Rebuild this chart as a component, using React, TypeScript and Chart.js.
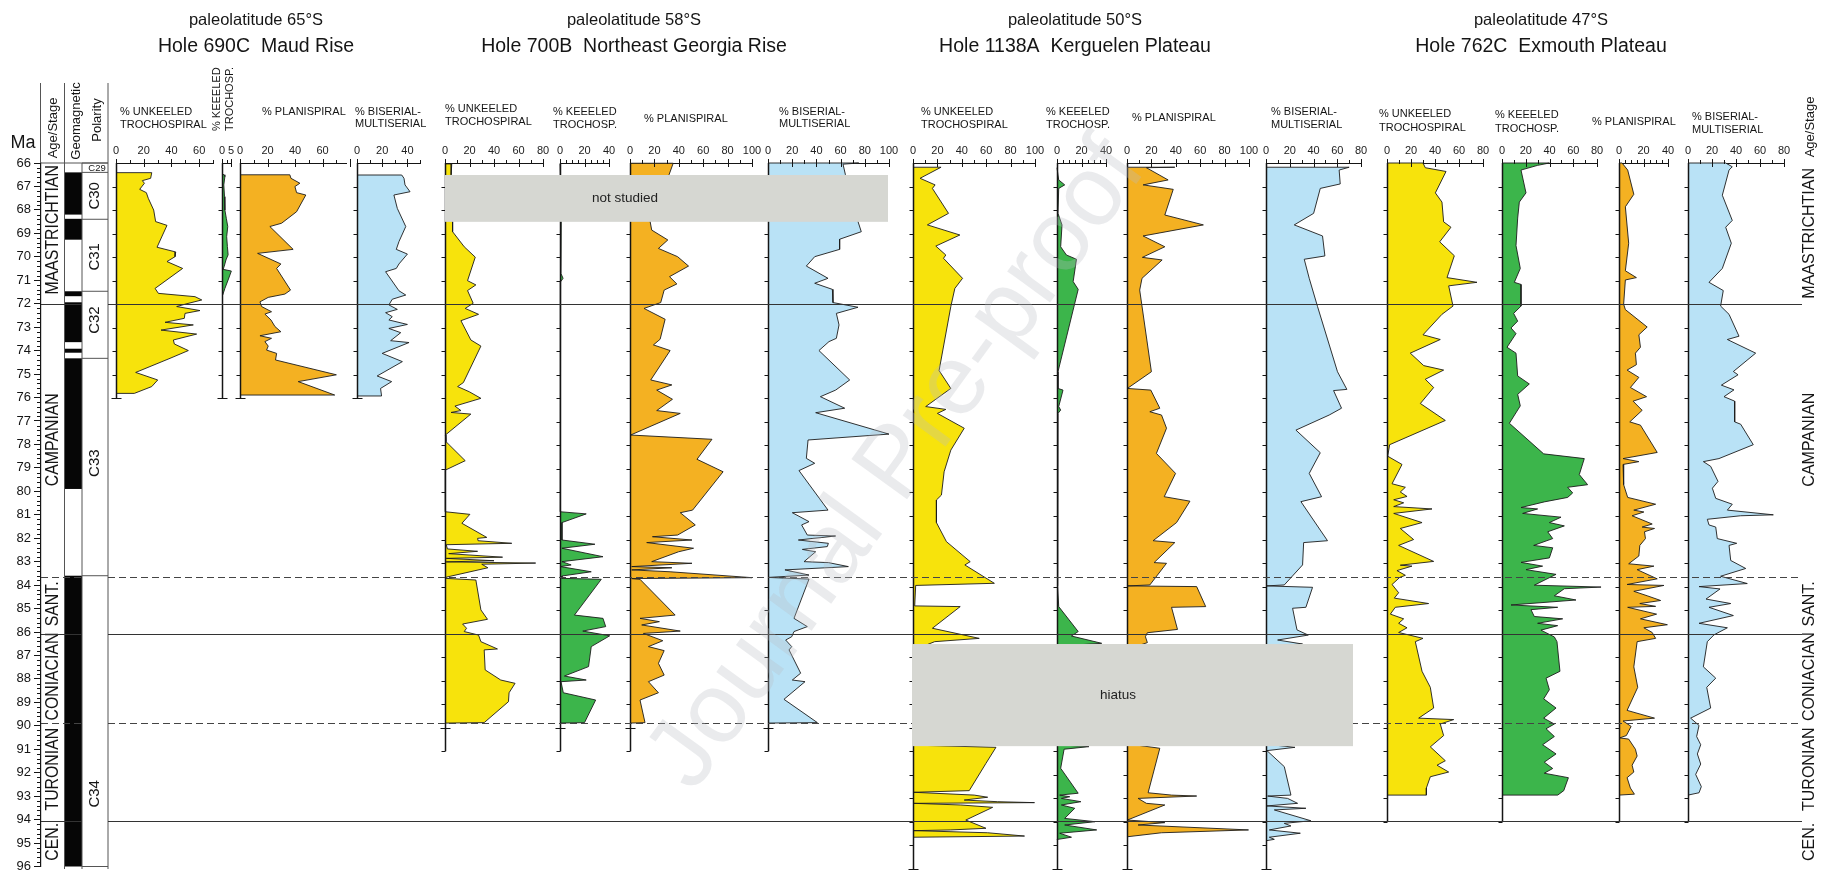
import React, { useEffect, useRef } from 'react';
import { Chart, registerables } from 'chart.js';

Chart.register(...registerables);

const FONT = '"Liberation Sans", Arial, Helvetica, sans-serif';
const NARROW = '"Liberation Sans Narrow", "Liberation Sans", Arial, sans-serif';
const W = 1829;
const H = 876;
const Y_TOP = 163;
const Y_BOT = 869;
const AXH = 30;
const PADL = 14;
const PADR = 30;
const PADB = 8;

const YELLOW = '#f7e30c';
const GREEN = '#3cb54b';
const ORANGE = '#f4b122';
const BLUE = '#b9e2f6';
const GREY_BOX = '#d6d7d2';
const INK = '#151515';

// ---------------- data (age Ma, percent) ----------------
const stageBounds = [66, 72, 83.6, 86, 89.8, 93.9, 96];
const stageNames = ['MAASTRICHTIAN', 'CAMPANIAN', 'SANT.', 'CONIACIAN', 'TURONIAN', 'CEN.'];
const normalPolarity = [[66.4, 68.2], [68.38, 69.27], [71.47, 71.68], [71.94, 73.64], [73.92, 74.09], [74.33, 79.9], [83.6, 96]];
const chronBounds = [66, 66.4, 68.4, 71.47, 74.33, 83.6, 96];
const chronNames = ['C29', 'C30', 'C31', 'C32', 'C33', 'C34'];
const chronLabelAges = [66.2, 67.4, 70.0, 72.7, 78.8, 92.9];
const solidLines = [72, 86, 93.95];
const dashedLines = [83.6, 89.8];
const notStudiedAges = [66.51, 68.5];
const hiatusAges = [86.44, 90.78];

const holeLatitudes = ['paleolatitude 65°S', 'paleolatitude 58°S', 'paleolatitude 50°S', 'paleolatitude 47°S'];
const holeNames = ['Hole 690C  Maud Rise', 'Hole 700B  Northeast Georgia Rise', 'Hole 1138A  Kerguelen Plateau', 'Hole 762C  Exmouth Plateau'];

const hole690Unkeeled = [[66.41,0],[66.41,25.8],[66.65,25.0],[66.75,19.0],[66.86,20.5],[67.12,17.1],[67.26,21.9],[67.5,23.3],[68.0,27.2],[68.49,28.6],[68.65,36.8],[69.58,29.6],[69.78,43.1],[69.98,42.6],[70.19,36.8],[70.48,48.1],[71.33,28.2],[71.54,30.6],[71.68,57.0],[71.82,61.9],[71.99,50.5],[72.1,43.8],[72.27,60.6],[72.39,49.8],[72.6,49.3],[72.77,35.4],[72.88,55.8],[73.1,32.5],[73.27,58.2],[73.52,41.4],[73.69,42.1],[73.97,52.2],[74.3,39.0],[74.9,14.2],[75.22,30.1],[75.5,25.8],[75.79,13.2],[75.79,0]];
const hole690Keeled = [[66.47,0],[66.5,1.2],[66.58,1.6],[66.93,1.0],[67.43,1.4],[68.0,1.6],[68.35,2.4],[68.7,3.2],[69.13,2.6],[69.55,3.0],[69.9,3.4],[70.12,2.2],[70.4,1.2],[70.52,0.6],[70.59,5.2],[70.97,3.4],[71.33,1.6],[71.61,0.4],[71.61,0]];
const hole690Planispiral = [[66.5,0],[66.5,36.2],[66.65,37.0],[66.86,43.5],[67.0,39.9],[67.26,41.1],[67.36,47.8],[68.07,41.1],[68.56,30.2],[68.7,21.7],[69.67,38.6],[69.84,12.8],[70.29,29.7],[70.48,26.6],[71.4,36.7],[71.57,32.6],[71.71,20.5],[71.9,14.5],[72.1,15.7],[72.32,22.9],[72.42,18.1],[72.67,22.5],[72.95,25.4],[73.17,29.7],[73.34,14.5],[73.45,22.9],[73.59,18.1],[73.78,20.5],[73.95,19.3],[74.09,26.6],[74.37,25.8],[75.0,70.0],[75.29,42.3],[75.86,68.8],[75.86,0]];
const hole690Biserial = [[66.51,0],[66.51,35.5],[66.65,37.3],[66.93,38.1],[67.22,42.1],[67.36,29.3],[67.93,32.0],[68.7,38.7],[69.34,33.3],[69.67,31.2],[69.87,40.0],[70.29,33.3],[70.48,31.2],[70.62,22.7],[71.43,33.3],[71.61,38.7],[71.79,28.0],[72.03,25.3],[72.22,32.0],[72.36,22.7],[72.53,28.0],[72.67,25.3],[72.86,40.0],[73.03,25.3],[73.21,34.7],[73.55,26.7],[73.63,41.3],[74.09,20.0],[74.44,36.0],[75.05,16.0],[75.29,27.5],[75.58,18.7],[75.9,19.5],[75.9,0]];

const hole700Unkeeled = [[66.04,0],[66.04,5.5],[66.5,5.0],[68.49,6.2],[68.92,6.2],[69.56,15.7],[70.0,24.7],[71.0,18.4],[71.18,25.2],[71.42,18.4],[71.96,23.0],[72.18,16.5],[72.43,27.4],[72.7,13.0],[73.52,21.1],[73.78,29.3],[75.33,15.0],[75.5,10.3],[75.72,19.8],[76.0,29.3],[76.33,8.1],[76.52,13.0],[76.6,4.9],[76.67,21.1],[77.56,0.3],[77.84,0.8],[78.65,16.5],[79.05,0.3],[80.82,0.3],[80.93,20.3],[81.31,13.8],[81.91,34.1],[81.95,26.6],[82.05,27],[82.16,54.5],[82.22,1],[82.4,2],[82.5,26.6],[82.6,3],[82.75,47],[82.8,1],[82.9,40],[82.95,1],[83.0,74],[83.05,30],[83.2,35],[83.6,1],[83.65,0.5],[83.72,25.2],[84.99,29.3],[85.39,34.7],[85.59,14.4],[85.77,17.6],[85.91,15.7],[86.06,27.4],[86.34,29.3],[86.65,42.8],[86.69,32.0],[87.54,32.8],[87.97,45.5],[88.11,57.2],[88.51,52.3],[88.89,51.8],[89.78,32.0],[89.8,0]];
const hole700Keeled = [[66.04,0],[66.04,0.5],[68.5,1.0],[70.7,0.8],[70.9,2.5],[71.05,0.5],[80.82,0.3],[80.91,21.4],[81.28,1.6],[82.02,1.6],[82.2,28.5],[82.37,1.6],[82.73,35.1],[82.94,1.6],[83.08,9.1],[83.15,0.3],[83.37,25.5],[83.55,1.6],[83.65,1.6],[83.69,33.7],[85.21,11.8],[85.35,35.1],[85.7,37.3],[85.89,18.6],[86.09,40.6],[86.55,25.5],[87.4,23.3],[87.8,3.6],[87.97,21.4],[88.04,0.8],[88.51,2.7],[88.82,29.1],[89.78,20.0],[89.8,0]];
const hole700Planispiral = [[66.01,0],[66.01,35.4],[66.5,32],[68.49,16.5],[68.85,17.8],[69.27,31.0],[69.63,23.3],[69.98,39.0],[70.38,48.0],[70.83,32.4],[71.14,38.4],[71.4,28.0],[71.93,25.2],[72.18,11.5],[72.64,28.8],[73.49,24.7],[73.73,19.2],[73.97,32.9],[75.22,17.0],[75.43,34.3],[75.65,21.9],[76.04,34.8],[76.52,21.9],[76.64,41.2],[77.56,0.5],[77.74,67.2],[78.59,54.9],[79.12,76.3],[80.75,51.3],[80.86,41.2],[81.38,53.5],[81.81,39.0],[81.88,18.4],[82.02,50.8],[82.13,13.7],[82.37,52.1],[82.52,39.8],[82.94,17.8],[83.01,50.8],[83.15,1.4],[83.2,34.3],[83.29,1.4],[83.37,32.9],[83.62,100],[83.66,1.4],[83.69,8.2],[85.21,37.0],[85.35,8.2],[85.49,24.1],[85.63,9.6],[85.89,41.2],[85.99,11.0],[86.3,26.9],[86.55,15.1],[86.72,28.0],[87.26,23.3],[87.76,28.0],[88.04,15.1],[88.51,23.3],[88.82,8.2],[89.78,12.3],[89.8,0]];
const hole700Biserial = [[66.0,0],[66.0,75],[66.05,62],[66.5,64],[68.49,74.4],[68.92,77.1],[69.24,59.2],[69.67,59.2],[69.98,38.6],[70.38,31.7],[70.9,49.6],[71.11,38.6],[71.37,53.2],[71.93,53.7],[72.13,74.4],[72.39,56.5],[72.88,58.7],[73.45,56.5],[73.59,50.4],[73.97,42.1],[75.22,67.5],[75.65,55.9],[75.93,43.3],[76.42,63.4],[76.61,39.4],[77.52,100],[77.77,33.1],[78.55,31.7],[78.76,38.6],[79.07,25.6],[80.75,49.6],[80.86,20.1],[81.24,33.9],[81.38,27.8],[81.81,32.5],[81.85,55.9],[82.02,25.1],[82.16,49.9],[82.3,49.0],[82.42,28.4],[82.52,39.4],[82.94,29.8],[82.98,49.9],[83.15,66.4],[83.29,14.0],[83.51,33.9],[83.61,0.3],[83.68,33.9],[85.35,21.5],[85.7,32.5],[85.91,21.5],[86.13,19.6],[86.27,14.6],[86.55,19.6],[86.69,17.4],[87.68,27.0],[87.97,20.1],[88.04,30.6],[88.79,13.2],[89.78,40.8],[89.8,0]];

const hole1138Unkeeled = [[66.18,0],[66.18,23],[66.65,5.8],[66.93,18.1],[67.08,15.9],[68.14,29.1],[68.63,11.8],[69.06,38.4],[69.53,18.7],[69.91,26.9],[70.05,25.0],[70.9,40.6],[71.33,34.3],[72.1,31.0],[74.82,21.4],[75.58,31.0],[76.35,10.4],[76.47,26.9],[76.64,20.0],[77.27,42.0],[78.2,31.0],[79.12,25.5],[80.11,23.3],[80.32,19.2],[81.28,19.2],[82.09,27.4],[82.94,46.9],[83.08,42.5],[83.86,66.7],[83.95,2.2],[84.82,1.4],[84.85,38.7],[85.77,15.9],[86.2,54.3],[86.34,17.8],[86.5,10],[90.75,10],[90.83,68.0],[91.51,59.8],[92.67,46.1],[92.74,0.8],[92.86,50.2],[92.95,61.2],[93.07,42.0],[93.14,69.4],[93.18,99.6],[93.21,0.8],[93.28,39.2],[93.38,65.3],[93.92,43.3],[94.27,59.8],[94.34,31.0],[94.37,0.8],[94.46,61.2],[94.6,91.4],[94.65,0.8],[94.65,0]];
const hole1138Keeled = [[66.2,0],[66.72,1.4],[66.93,6.3],[67.08,1.4],[68.14,0.8],[68.63,4.1],[69.56,3.0],[69.91,7.7],[70.09,15.9],[71.04,13.2],[71.37,17.3],[74.87,0.8],[75.58,0.8],[75.65,4.9],[76.35,1.4],[76.5,3.0],[76.64,0.8],[83.97,0.5],[84.85,1.4],[85.91,17.3],[86.1,11.8],[86.41,36.5],[86.5,10],[90.75,10],[90.8,26.1],[90.91,5.8],[91.72,3.0],[92.78,17.3],[92.86,2.2],[92.93,10.4],[93.0,3.6],[93.14,19.5],[93.28,3.6],[93.42,14.5],[93.85,6.3],[93.99,31.0],[94.13,6.3],[94.34,32.4],[94.48,2.2],[94.65,11.8],[94.74,0.8],[94.75,0]];
const hole1138Planispiral = [[66.18,0],[66.18,39.2],[66.2,15.9],[66.72,33.7],[66.93,13.2],[67.12,37.9],[68.21,31.0],[68.63,62.6],[69.1,13.2],[69.56,31.0],[70.01,12.6],[70.12,28.8],[70.9,12.3],[71.4,10.4],[74.87,20.0],[75.58,0.3],[75.65,19.5],[76.42,26.9],[76.57,18.7],[76.71,28.3],[77.27,32.4],[78.34,24.1],[79.19,39.8],[80.18,30.5],[80.37,51.6],[81.28,40.6],[82.05,21.4],[82.13,39.2],[82.98,22.2],[83.01,32.4],[83.93,18.7],[83.97,0.8],[84.0,57.1],[84.85,64.5],[84.88,36.5],[85.82,41.4],[85.96,16.7],[86.13,15.1],[86.38,16.7],[86.5,10],[90.75,10],[90.87,26.9],[92.76,17.3],[92.86,36.5],[92.9,57.1],[93.0,9.1],[93.21,15.9],[93.28,31.0],[93.92,0.3],[94.03,31.0],[94.13,9.1],[94.34,99.6],[94.46,28.3],[94.63,0.3],[94.63,0]];
const hole1138Biserial = [[66.18,0],[66.18,70.0],[66.3,61.6],[66.89,62.5],[67.08,45.7],[68.14,40.1],[68.63,23.8],[69.1,47.6],[69.95,49.6],[70.09,32.2],[70.9,36.4],[72.1,43.4],[74.87,60.2],[75.62,68.1],[75.67,56.9],[76.42,63.6],[76.71,53.2],[77.35,25.2],[78.31,45.7],[79.19,36.4],[80.18,46.8],[80.39,29.4],[82.05,51.8],[82.13,31.7],[83.08,30.8],[83.93,15.4],[83.97,0.3],[84.03,39.2],[84.88,33.6],[84.92,22.4],[85.84,26.1],[86.06,35.6],[86.27,9.8],[86.44,30.8],[86.5,10],[90.75,10],[90.83,24.4],[90.97,0.8],[91.65,15.4],[92.86,21.0],[92.9,1.4],[93.0,18.2],[93.21,26.6],[93.32,0.8],[93.42,33.6],[93.49,7.0],[93.95,37.8],[94.06,15.4],[94.17,21.0],[94.34,2.8],[94.48,28.9],[94.65,2.8],[94.74,7.0],[94.8,0]];

const hole762Unkeeled = [[66.0,0],[66.0,30.0],[66.2,31.9],[66.36,49.2],[67.27,40.3],[67.66,45.8],[68.5,47.2],[68.73,53.3],[69.35,43.9],[69.94,56.1],[70.87,50.0],[71.07,75.0],[71.22,51.4],[72.08,55.0],[72.43,45.8],[73.3,30.0],[73.5,44.4],[74.08,19.4],[74.61,30.6],[74.8,47.2],[75.19,31.9],[75.54,38.9],[76.22,27.8],[76.94,48.6],[77.97,2.2],[78.46,0.6],[78.81,12.5],[79.63,4.2],[79.78,15.3],[79.98,11.1],[80.17,16.7],[80.31,5.6],[80.44,13.9],[80.6,5.6],[80.7,37.5],[80.89,5.6],[81.28,29.2],[81.53,11.1],[82.0,22.2],[82.25,9.7],[82.93,38.9],[83.09,11.1],[83.13,20.8],[83.32,8.3],[83.52,15.3],[83.61,10.6],[83.91,4.2],[84.26,9.7],[84.49,6.1],[84.72,34.7],[84.88,6.9],[85.17,2.8],[85.37,13.9],[85.56,9.7],[85.75,16.7],[85.95,9.7],[86.2,30.0],[86.34,23.6],[87.6,29.2],[88.28,36.1],[89.16,38.9],[89.59,26.4],[89.65,55.6],[89.84,44.4],[90.33,47.2],[90.81,36.1],[91.4,48.6],[91.59,41.7],[91.88,51.4],[92.08,36.1],[92.56,32.8],[92.86,32.8],[92.86,0]];
const hole762Keeled = [[66.0,0],[66.0,39.9],[66.1,30],[66.3,16],[67.27,20.2],[67.66,14.6],[68.34,13.2],[69.51,11.8],[70.48,15.4],[71.07,10.4],[71.16,16.0],[72.08,16.0],[72.39,9.8],[72.72,13.2],[73.01,7.6],[73.25,11.8],[73.83,4.2],[74.08,11.8],[75.05,13.2],[75.39,23.0],[75.83,13.2],[76.32,15.4],[77.06,6.2],[78.36,35.1],[78.56,69.3],[79.24,65.1],[79.67,72.1],[79.78,55.3],[80.02,59.5],[80.21,55.3],[80.4,35.6],[80.64,16.0],[80.7,30.0],[80.89,17.4],[81.05,49.7],[81.28,39.9],[81.42,52.5],[81.67,38.5],[81.96,42.7],[82.25,26.7],[82.35,42.7],[82.78,39.9],[82.97,16.0],[83.13,34.2],[83.28,20.2],[83.48,45.5],[83.94,27.2],[84.02,83.4],[84.09,52.5],[84.39,44.1],[84.57,62.3],[84.78,7.6],[84.88,46.9],[84.98,24.4],[85.27,27.2],[85.37,51.1],[85.56,30.0],[85.66,46.9],[85.85,32.8],[86.14,44.1],[86.34,46.3],[87.6,48.8],[87.89,37.1],[88.38,39.9],[88.77,35.1],[89.16,45.5],[89.59,35.1],[89.84,44.1],[90.04,37.1],[90.37,44.1],[90.72,34.2],[91.11,45.5],[91.46,35.6],[91.73,42.7],[91.93,35.6],[92.12,55.9],[92.67,52.0],[92.86,46.9],[92.86,0]];
const hole762Planispiral = [[66.0,0],[66.0,2.5],[66.3,7.1],[67.33,12.1],[67.86,5.2],[69.41,7.9],[70.58,5.2],[70.87,14.2],[70.97,5.2],[72.0,3.8],[72.23,5.2],[72.97,23.0],[73.3,16.2],[73.83,17.5],[74.08,13.4],[74.57,14.2],[74.8,6.6],[75.11,16.2],[75.54,9.3],[75.93,22.5],[76.12,11.5],[76.51,18.9],[77.0,8.8],[77.14,17.5],[78.3,31.2],[78.56,3.3],[78.69,16.2],[78.81,3.3],[79.67,3.8],[80.21,7.1],[80.5,29.9],[80.75,12.1],[80.83,20.3],[80.99,10.7],[81.34,27.1],[81.47,18.9],[81.53,29.0],[81.67,20.8],[81.96,21.6],[82.25,17.0],[82.7,16.2],[83.03,7.9],[83.13,28.5],[83.28,14.8],[83.67,31.2],[83.91,6.6],[83.95,36.7],[84.2,12.1],[84.39,23.0],[84.59,34.0],[84.72,17.0],[84.84,29.9],[84.88,7.1],[85.17,30.7],[85.37,17.5],[85.62,39.5],[85.75,20.3],[85.95,27.1],[86.2,29.9],[86.34,14.8],[87.41,12.1],[88.28,15.3],[89.26,6.6],[89.59,29.0],[89.71,3.3],[89.94,9.9],[90.33,6.0],[90.43,0.5],[90.48,7.9],[90.91,13.4],[91.2,14.8],[91.59,10.7],[91.88,12.1],[92.12,6.6],[92.56,9.3],[92.82,12.6],[92.86,0]];
const hole762Biserial = [[66.0,0],[66.0,31.4],[66.16,36.9],[66.3,34.2],[67.37,28.6],[68.44,36.9],[68.73,31.4],[69.41,36.1],[70.48,28.6],[71.07,17.5],[71.42,29.4],[72.08,27.2],[72.43,34.2],[73.36,42.5],[73.5,32.8],[74.08,56.4],[74.86,37.8],[75.0,41.7],[75.44,27.8],[75.64,38.3],[75.93,30.0],[76.12,38.9],[77.0,38.9],[77.1,43.9],[77.97,54.4],[78.56,25.8],[78.69,12.8],[78.89,18.9],[79.53,25.0],[79.82,20.3],[80.25,23.1],[80.5,36.9],[80.75,32.8],[80.95,71.1],[80.99,43.9],[81.14,16.1],[81.38,17.5],[81.47,23.1],[81.96,24.4],[82.16,40.6],[82.25,34.2],[82.89,35.6],[83.23,48.1],[83.56,27.2],[83.87,49.4],[84.0,9.2],[84.1,26.7],[84.53,15.0],[84.72,35.6],[84.88,17.5],[85.23,37.8],[85.56,9.2],[85.75,32.8],[86.05,21.7],[86.34,16.1],[87.41,12.8],[87.89,23.1],[88.28,15.6],[89.16,18.9],[89.59,2.2],[89.9,9.2],[90.37,7.2],[90.72,10.6],[91.11,7.8],[91.54,10.6],[91.98,6.4],[92.5,11.1],[92.76,9.2],[92.86,0]];

// ---------------- layout (not data) ----------------
const holeBase = [
  { end: 76, cross: [76] },
  { end: 91, cross: [90] },
  { end: 96, cross: [96] },
  { end: 94, cross: [] as number[] },
];

const PANELS = [
  { hole: 0, data: hole690Unkeeled, color: YELLOW, left: 116, max: 70, ppu: 1.385, major: 20, minor: 10 },
  { hole: 0, data: hole690Keeled, color: GREEN, left: 221.5, max: 5, ppu: 1.7, major: 5, minor: 2.5 },
  { hole: 0, data: hole690Planispiral, color: ORANGE, left: 240, max: 77, ppu: 1.38, major: 20, minor: 10 },
  { hole: 0, data: hole690Biserial, color: BLUE, left: 356.7, max: 50, ppu: 1.25, major: 20, minor: 10 },
  { hole: 1, data: hole700Unkeeled, color: YELLOW, left: 445, max: 80, ppu: 1.23, major: 20, minor: 10 },
  { hole: 1, data: hole700Keeled, color: GREEN, left: 560, max: 40, ppu: 1.215, major: 20, minor: 5 },
  { hole: 1, data: hole700Planispiral, color: ORANGE, left: 630, max: 100, ppu: 1.215, major: 20, minor: 10 },
  { hole: 1, data: hole700Biserial, color: BLUE, left: 768.3, max: 100, ppu: 1.21, major: 20, minor: 10 },
  { hole: 2, data: hole1138Unkeeled, color: YELLOW, left: 913.3, max: 100, ppu: 1.215, major: 20, minor: 10 },
  { hole: 2, data: hole1138Keeled, color: GREEN, left: 1056.7, max: 40, ppu: 1.215, major: 20, minor: 5 },
  { hole: 2, data: hole1138Planispiral, color: ORANGE, left: 1127.3, max: 100, ppu: 1.215, major: 20, minor: 10 },
  { hole: 2, data: hole1138Biserial, color: BLUE, left: 1266, max: 80, ppu: 1.19, major: 20, minor: 10 },
  { hole: 3, data: hole762Unkeeled, color: YELLOW, left: 1386.7, max: 80, ppu: 1.2, major: 20, minor: 10 },
  { hole: 3, data: hole762Keeled, color: GREEN, left: 1501.7, max: 80, ppu: 1.1875, major: 20, minor: 10 },
  { hole: 3, data: hole762Planispiral, color: ORANGE, left: 1619.3, max: 40, ppu: 1.215, major: 20, minor: 5 },
  { hole: 3, data: hole762Biserial, color: BLUE, left: 1687.7, max: 80, ppu: 1.2, major: 20, minor: 10 },
];

const UNK = ['% UNKEELED', 'TROCHOSPIRAL'];
const KEE = ['% KEEELED', 'TROCHOSP.'];
const PLA = ['% PLANISPIRAL'];
const BIS = ['% BISERIAL-', 'MULTISERIAL'];
const HEADERS = [
  { x: 120, ys: [112, 125], lines: UNK },
  { x: 262, ys: [112], lines: PLA },
  { x: 355, ys: [112, 124], lines: BIS },
  { x: 445, ys: [109, 122], lines: UNK },
  { x: 553, ys: [112, 125], lines: KEE },
  { x: 644, ys: [119], lines: PLA },
  { x: 779, ys: [112, 124], lines: BIS },
  { x: 921, ys: [112, 125], lines: UNK },
  { x: 1046, ys: [112, 125], lines: KEE },
  { x: 1132, ys: [118], lines: PLA },
  { x: 1271, ys: [112, 125], lines: BIS },
  { x: 1379, ys: [114, 128], lines: UNK },
  { x: 1495, ys: [115, 129], lines: KEE },
  { x: 1592, ys: [122], lines: PLA },
  { x: 1692, ys: [117, 130], lines: BIS },
];
const TITLE_X = [256, 634, 1075, 1541];

function geom(p: any) {
  const w = Math.round(p.max * p.ppu);
  return { w, left: Math.round(p.left) - PADL, top: Y_TOP - AXH, cw: PADL + w + PADR, ch: AXH + (Y_BOT - Y_TOP) + PADB };
}

function seg(ctx: CanvasRenderingContext2D, x1: number, y1: number, x2: number, y2: number) {
  ctx.beginPath();
  ctx.moveTo(x1, y1);
  ctx.lineTo(x2, y2);
  ctx.stroke();
}

function txt(ctx: CanvasRenderingContext2D, s: string, x: number, y: number, size: number, o: any = {}) {
  ctx.save();
  ctx.translate(x, y);
  if (o.rot) ctx.rotate(o.rot);
  if (o.sx || o.sy) ctx.scale(o.sx || 1, o.sy || 1);
  ctx.font = `${o.weight || 'normal'} ${size}px ${o.family || FONT}`;
  ctx.fillStyle = o.color || INK;
  ctx.textAlign = o.align || 'center';
  ctx.textBaseline = o.baseline || 'middle';
  ctx.fillText(s, 0, 0);
  ctx.restore();
}

const baseDeco = {
  id: 'baseDeco',
  afterDraw(chart: any) {
    const ctx: CanvasRenderingContext2D = chart.ctx;
    const ys = chart.scales.y;
    const y = (a: number) => ys.getPixelForValue(a);
    ctx.save();
    ctx.strokeStyle = INK;
    ctx.lineWidth = 1;
    for (let i = 0; i <= 150; i++) {
      if (i % 5 === 0) continue;
      const py = Math.round(y(66 + i * 0.2)) + 0.5;
      seg(ctx, 37, py, 41, py);
    }
    ctx.fillStyle = '#060606';
    normalPolarity.forEach(([a, b]) => ctx.fillRect(65, y(a), 17, y(b) - y(a)));
    ctx.strokeStyle = '#555';
    ctx.lineWidth = 1;
    seg(ctx, 40.5, 83, 40.5, Y_TOP);
    seg(ctx, 64.5, 83, 64.5, Y_BOT);
    seg(ctx, 108, 83, 108, Y_BOT);
    seg(ctx, 82, Y_TOP, 82, Y_BOT);
    seg(ctx, 41, Y_TOP, 108, Y_TOP);
    chronBounds.forEach((a) => seg(ctx, 82, y(a), 108, y(a)));
    txt(ctx, 'Ma', 23, 143, 18);
    txt(ctx, 'Age/Stage', 53, 128, 13, { rot: -Math.PI / 2 });
    txt(ctx, 'Geomagnetic', 76, 121, 13, { rot: -Math.PI / 2 });
    txt(ctx, 'Polarity', 97, 120, 13, { rot: -Math.PI / 2 });
    stageNames.forEach((n, i) => {
      const c = (stageBounds[i] + stageBounds[i + 1]) / 2 - (i === 0 ? 0.15 : 0);
      txt(ctx, n, 53, y(c), 18, { rot: -Math.PI / 2, sx: 0.88 });
    });
    chronNames.forEach((n, i) => {
      if (i === 0) txt(ctx, n, 97, y(chronLabelAges[i]) + 1, 9.5);
      else txt(ctx, n, 95, y(chronLabelAges[i]), 15, { rot: -Math.PI / 2 });
    });
    txt(ctx, 'Age/Stage', 1810, 127, 13, { rot: -Math.PI / 2 });
    stageNames.forEach((n, i) => {
      const c = (stageBounds[i] + stageBounds[i + 1]) / 2;
      txt(ctx, n, 1810, y(c), 16, { rot: -Math.PI / 2 });
    });
    TITLE_X.forEach((x, i) => {
      txt(ctx, holeLatitudes[i], x, 20, 16.5);
      txt(ctx, holeNames[i], x, 47, 19.5);
    });
    HEADERS.forEach((h) => h.lines.forEach((l, j) => txt(ctx, l, h.x, h.ys[j], 11, { align: 'left' })));
    txt(ctx, '% KEEELED', 217, 131, 11, { rot: -Math.PI / 2, align: 'left' });
    txt(ctx, 'TROCHOSP.', 230, 131, 11, { rot: -Math.PI / 2, align: 'left' });
    ctx.restore();
  },
};

const overlayDeco = {
  id: 'overlayDeco',
  afterDraw(chart: any) {
    const ctx: CanvasRenderingContext2D = chart.ctx;
    const ys = chart.scales.y;
    const y = (a: number) => Math.round(ys.getPixelForValue(a)) + 0.5;
    ctx.save();
    ctx.strokeStyle = '#333';
    ctx.lineWidth = 1.1;
    solidLines.forEach((a) => { seg(ctx, 41, y(a), 82, y(a)); seg(ctx, 108, y(a), 1802, y(a)); });
    ctx.setLineDash([7, 4]);
    ctx.strokeStyle = '#444';
    dashedLines.forEach((a) => { seg(ctx, 41, y(a), 82, y(a)); seg(ctx, 108, y(a), 1802, y(a)); });
    ctx.setLineDash([]);
    const ns0 = ys.getPixelForValue(notStudiedAges[0]);
    const ns1 = ys.getPixelForValue(notStudiedAges[1]);
    ctx.fillStyle = GREY_BOX;
    ctx.fillRect(445, ns0, 443, ns1 - ns0);
    txt(ctx, 'not studied', 625, (ns0 + ns1) / 2, 13.5, { color: '#222' });
    const h0 = ys.getPixelForValue(hiatusAges[0]);
    const h1 = ys.getPixelForValue(hiatusAges[1]);
    ctx.fillRect(912, h0, 441, h1 - h0);
    txt(ctx, 'hiatus', 1118, (h0 + h1) / 2, 13.5, { color: '#222' });
    txt(ctx, 'Journal Pre-proof', 898, 465, 100, { rot: -54 * Math.PI / 180, color: 'rgba(185,188,194,0.3)' });
    ctx.restore();
  },
};

function panelDeco(p: any) {
  const hb = holeBase[p.hole];
  return {
    id: 'panelDeco',
    afterDatasetsDraw(chart: any) {
      const ctx: CanvasRenderingContext2D = chart.ctx;
      const xs = chart.scales.x;
      const ys = chart.scales.y;
      const x0 = Math.round(xs.getPixelForValue(0)) + 0.5;
      const yt = chart.chartArea.top;
      ctx.save();
      ctx.strokeStyle = INK;
      ctx.lineWidth = 1;
      const n = Math.round(p.max / p.minor);
      for (let i = 0; i <= n; i++) {
        const v = i * p.minor;
        const r = v / p.major;
        const major = Math.abs(r - Math.round(r)) < 1e-6;
        const px = Math.round(xs.getPixelForValue(v)) + 0.5;
        seg(ctx, px, yt - (major ? 4 : 3), px, yt + (major ? 4 : 1));
      }
      ctx.lineWidth = 1.5;
      seg(ctx, x0, yt, x0, ys.getPixelForValue(hb.end));
      ctx.lineWidth = 1;
      for (let a = 67; a <= hb.end; a++) {
        const py = Math.round(ys.getPixelForValue(a)) + 0.5;
        seg(ctx, x0 - 4, py, x0, py);
      }
      hb.cross.forEach((a: number) => {
        const py = Math.round(ys.getPixelForValue(a)) + 0.5;
        seg(ctx, x0 - 5, py, x0 + 5, py);
      });
      ctx.restore();
    },
  };
}

function panelConfig(p: any): any {
  return {
    type: 'line',
    data: {
      datasets: [{
        data: p.data.map(([a, v]: number[]) => ({ x: v, y: a })),
        backgroundColor: p.color,
        borderColor: '#1c1c1c',
        borderWidth: 0.9,
        fill: 'origin',
        pointRadius: 0,
        pointHoverRadius: 0,
        tension: 0,
        clip: { left: 20, right: PADR, top: 2, bottom: PADB },
      }],
    },
    options: {
      indexAxis: 'y',
      responsive: false,
      animation: false,
      devicePixelRatio: 1,
      events: [],
      layout: { padding: { left: PADL, right: PADR, top: 0, bottom: PADB } },
      plugins: { legend: { display: false }, tooltip: { enabled: false } },
      scales: {
        x: {
          type: 'linear', position: 'top', min: 0, max: p.max,
          afterFit: (s: any) => { s.height = AXH; },
          grid: { display: false, drawTicks: false },
          border: { display: true, color: INK, width: 1 },
          ticks: { stepSize: p.major, includeBounds: false, autoSkip: false, maxRotation: 0, padding: 5, color: '#222', font: { family: NARROW, size: 11 } },
        },
        y: { type: 'linear', min: 66, max: 96, reverse: true, display: false },
      },
    },
    plugins: [panelDeco(p)],
  };
}

function frameConfig(showAxis: boolean, plugin: any): any {
  return {
    type: 'scatter',
    data: { datasets: [] },
    options: {
      responsive: false,
      animation: false,
      devicePixelRatio: 1,
      events: [],
      layout: { padding: { left: showAxis ? 0 : 41, right: 0, top: Y_TOP, bottom: H - Y_BOT } },
      plugins: { legend: { display: false }, tooltip: { enabled: false } },
      scales: {
        x: { type: 'linear', display: false, min: 0, max: 1 },
        y: {
          type: 'linear', min: 66, max: 96, reverse: true, position: 'left', display: showAxis,
          afterFit: (s: any) => { s.width = 41; },
          ticks: { stepSize: 1, autoSkip: false, padding: 3, color: INK, font: { family: FONT, size: 13, lineHeight: 1 } },
          grid: { drawOnChartArea: false, drawTicks: true, tickLength: 7, color: INK },
          border: { display: true, color: INK, width: 1.2 },
        },
      },
    },
    plugins: [plugin],
  };
}

export default function App() {
  const baseRef = useRef<HTMLCanvasElement | null>(null);
  const overRef = useRef<HTMLCanvasElement | null>(null);
  const panelRefs = useRef<(HTMLCanvasElement | null)[]>([]);

  useEffect(() => {
    const charts: Chart[] = [];
    if (baseRef.current) charts.push(new Chart(baseRef.current, frameConfig(true, baseDeco)));
    PANELS.forEach((p, i) => {
      const c = panelRefs.current[i];
      if (c) charts.push(new Chart(c, panelConfig(p)));
    });
    if (overRef.current) charts.push(new Chart(overRef.current, frameConfig(false, overlayDeco)));
    return () => charts.forEach((c) => c.destroy());
  }, []);

  const abs = (l: number, t: number, w: number, h: number): React.CSSProperties => ({ position: 'absolute', left: l, top: t, width: w, height: h });

  return (
    <div style={{ position: 'fixed', left: 0, top: 0, width: W, height: H, background: '#fff', overflow: 'hidden' }}>
      <canvas ref={baseRef} width={W} height={H} style={abs(0, 0, W, H)} />
      {PANELS.map((p, i) => {
        const g = geom(p);
        return (
          <canvas
            key={i}
            ref={(el) => { panelRefs.current[i] = el; }}
            width={g.cw}
            height={g.ch}
            style={abs(g.left, g.top, g.cw, g.ch)}
          />
        );
      })}
      <canvas ref={overRef} width={W} height={H} style={abs(0, 0, W, H)} />
    </div>
  );
}
